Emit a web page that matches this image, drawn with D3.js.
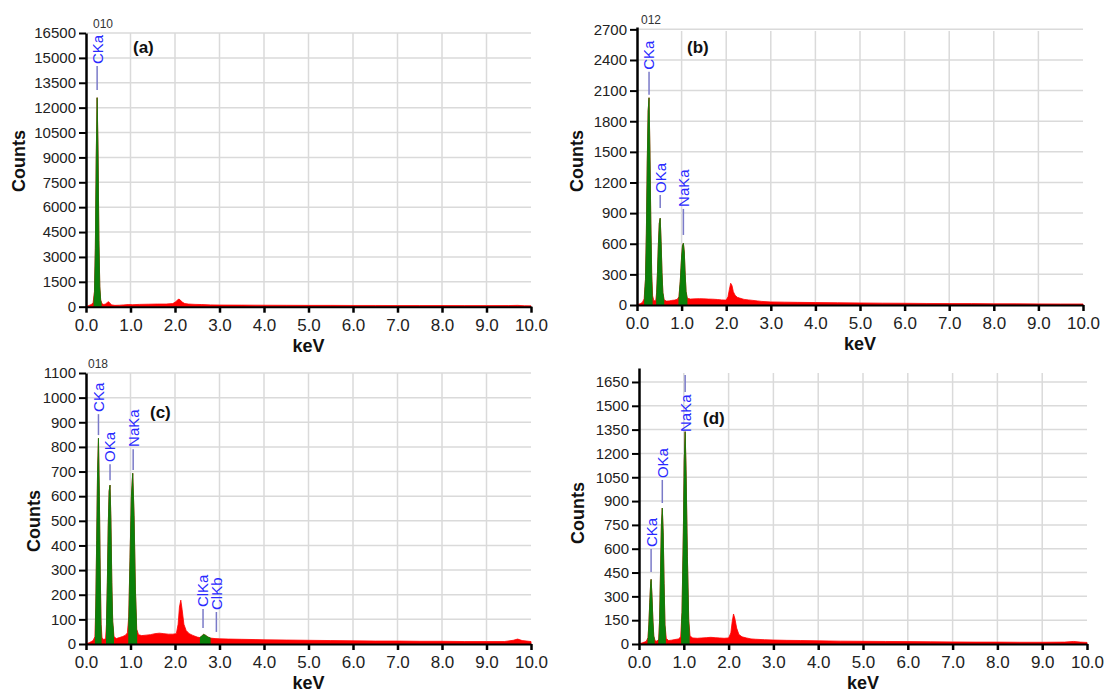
<!DOCTYPE html>
<html>
<head>
<meta charset="utf-8">
<script src="https://cdn.jsdelivr.net/npm/d3@7"></script>
<style>
  body { margin: 0; background: #fff; }
  svg { display: block; font-family: "Liberation Sans", Arial, sans-serif; }
</style>
</head>
<body>
<svg id="svg" width="1108" height="693"></svg>
<script>
// energy axis (keV), shared by all four spectra
const kevTicks = [0, 1, 2, 3, 4, 5, 6, 7, 8, 9, 10];
const kevTickLabels = ["0.0", "1.0", "2.0", "3.0", "4.0", "5.0", "6.0", "7.0", "8.0", "9.0", "10.0"];

const yTicksA = [0, 1500, 3000, 4500, 6000, 7500, 9000, 10500, 12000, 13500, 15000, 16500];
const yTicksB = [0, 300, 600, 900, 1200, 1500, 1800, 2100, 2400, 2700];
const yTicksC = [0, 100, 200, 300, 400, 500, 600, 700, 800, 900, 1000, 1100];
const yTicksD = [0, 150, 300, 450, 600, 750, 900, 1050, 1200, 1350, 1500, 1650];

// spectra: [keV, counts]
const spectrumA = [
  [0, 0], [0.04, 40], [0.08, 90], [0.12, 130], [0.16, 250], [0.19, 900], [0.21, 3500], [0.23, 9000],
  [0.25, 12600], [0.27, 9500], [0.29, 4000], [0.31, 1200], [0.33, 400], [0.36, 180], [0.40, 130],
  [0.44, 170], [0.48, 260], [0.51, 300], [0.54, 200], [0.58, 110], [0.65, 80], [0.75, 90], [0.85, 110],
  [0.95, 130], [1.05, 120], [1.2, 140], [1.4, 150], [1.6, 160], [1.8, 160], [1.95, 190], [2.02, 300],
  [2.06, 420], [2.09, 460], [2.12, 400], [2.16, 280], [2.22, 190], [2.3, 160], [2.45, 140], [2.6, 130],
  [2.8, 110], [3.0, 100], [3.5, 95], [4.0, 90], [4.5, 85], [5.0, 80], [5.5, 80], [6.0, 75], [6.5, 75],
  [7.0, 70], [7.5, 70], [8.0, 70], [8.5, 65], [9.0, 65], [9.5, 70], [9.7, 80], [9.85, 60], [10, 50]
];
const spectrumB = [
  [0, 0], [0.04, 8], [0.08, 15], [0.12, 25], [0.16, 60], [0.19, 250], [0.21, 700], [0.23, 1400],
  [0.25, 1900], [0.27, 2030], [0.29, 1500], [0.31, 800], [0.33, 300], [0.35, 90], [0.38, 40], [0.42, 45],
  [0.44, 120], [0.46, 330], [0.48, 600], [0.50, 800], [0.52, 850], [0.54, 620], [0.56, 320], [0.58, 120],
  [0.61, 50], [0.66, 38], [0.72, 40], [0.78, 45], [0.84, 48], [0.90, 55], [0.94, 80], [0.97, 230],
  [1.00, 470], [1.02, 580], [1.04, 605], [1.06, 520], [1.08, 300], [1.10, 130], [1.13, 65], [1.2, 58],
  [1.3, 60], [1.4, 62], [1.5, 60], [1.6, 58], [1.7, 57], [1.8, 54], [1.9, 50], [2.0, 48], [2.04, 80],
  [2.07, 150], [2.10, 213], [2.13, 190], [2.16, 130], [2.2, 95], [2.25, 75], [2.3, 68], [2.4, 55],
  [2.5, 50], [2.6, 45], [2.7, 40], [2.8, 35], [3.0, 30], [3.3, 28], [3.6, 26], [4.0, 24], [4.5, 22],
  [5.0, 20], [5.5, 18], [6.0, 17], [6.5, 15], [7.0, 14], [7.5, 14], [8.0, 12], [8.5, 12], [9.0, 11],
  [9.5, 10], [10, 10]
];
const spectrumC = [
  [0, 0], [0.04, 3], [0.08, 6], [0.12, 10], [0.16, 14], [0.20, 30], [0.22, 150], [0.24, 420], [0.26, 700],
  [0.28, 835], [0.30, 600], [0.32, 280], [0.34, 80], [0.36, 25], [0.40, 18], [0.44, 22], [0.46, 80],
  [0.48, 250], [0.50, 480], [0.52, 620], [0.54, 645], [0.56, 500], [0.58, 250], [0.60, 90], [0.63, 30],
  [0.68, 22], [0.75, 26], [0.82, 30], [0.88, 35], [0.93, 45], [0.96, 110], [0.99, 350], [1.02, 600],
  [1.05, 693], [1.08, 520], [1.11, 220], [1.14, 60], [1.18, 38], [1.25, 34], [1.35, 36], [1.45, 38],
  [1.55, 42], [1.65, 44], [1.75, 42], [1.85, 40], [1.95, 40], [2.03, 42], [2.07, 80], [2.10, 150],
  [2.13, 178], [2.16, 140], [2.20, 80], [2.25, 55], [2.32, 42], [2.4, 35], [2.5, 28], [2.56, 26],
  [2.60, 32], [2.64, 39], [2.68, 36], [2.74, 28], [2.8, 24], [2.9, 22], [3.0, 21], [3.2, 20], [3.5, 19],
  [3.8, 18], [4.0, 17], [4.5, 16], [5.0, 15], [5.5, 14], [6.0, 13], [6.5, 12], [7.0, 12], [7.5, 11],
  [8.0, 11], [8.5, 10], [9.0, 10], [9.4, 10], [9.6, 15], [9.7, 20], [9.8, 14], [10, 10]
];
const spectrumD = [
  [0, 0], [0.04, 4], [0.08, 8], [0.12, 12], [0.16, 16], [0.20, 40], [0.22, 120], [0.24, 260], [0.26, 380],
  [0.27, 407], [0.29, 300], [0.31, 150], [0.33, 50], [0.36, 20], [0.40, 18], [0.44, 30], [0.46, 150],
  [0.48, 450], [0.50, 750], [0.52, 856], [0.54, 700], [0.56, 380], [0.58, 120], [0.61, 35], [0.66, 22],
  [0.72, 24], [0.80, 28], [0.88, 32], [0.93, 45], [0.96, 200], [0.99, 700], [1.01, 1150], [1.03, 1337],
  [1.05, 1100], [1.08, 550], [1.11, 150], [1.14, 50], [1.2, 38], [1.3, 36], [1.4, 38], [1.5, 40],
  [1.6, 42], [1.7, 40], [1.8, 38], [1.9, 36], [2.0, 38], [2.05, 70], [2.08, 140], [2.11, 189], [2.14, 160],
  [2.18, 100], [2.23, 60], [2.3, 45], [2.4, 38], [2.5, 32], [2.6, 30], [2.8, 27], [3.0, 25], [3.3, 23],
  [3.6, 22], [4.0, 20], [4.5, 18], [5.0, 17], [5.5, 16], [6.0, 15], [6.5, 14], [7.0, 13], [7.5, 12],
  [8.0, 12], [8.5, 11], [9.0, 11], [9.5, 12], [9.7, 16], [9.85, 12], [10, 10]
];

// identified peak windows (keV) drawn in green
const peaksA = [[0.17, 0.35]];
const peaksB = [[0.16, 0.35], [0.43, 0.61], [0.93, 1.13]];
const peaksC = [[0.20, 0.35], [0.45, 0.63], [0.95, 1.15], [2.56, 2.80]];
const peaksD = [[0.19, 0.35], [0.43, 0.60], [0.94, 1.13]];

// element markers: name, keV, where text starts, marker line (counts)
const labelsA = [{ name: "CKa", kev: 0.25, text: 14630, line: [13060, 14510] }];
const labelsB = [
  { name: "CKa", kev: 0.27, text: 2304, line: [2059, 2284] },
  { name: "OKa", kev: 0.52, text: 1098, line: [951, 1078] },
  { name: "NaKa", kev: 1.04, text: 961, line: [686, 941] }
];
const labelsC = [
  { name: "CKa", kev: 0.28, text: 942, line: [848, 933] },
  { name: "OKa", kev: 0.54, text: 739, line: [665, 730] },
  { name: "NaKa", kev: 1.06, text: 800, line: [706, 791] },
  { name: "ClKa", kev: 2.63, text: 150, line: [65, 142] },
  { name: "ClKb", kev: 2.93, text: 138, line: [49, 130] }
];
const labelsD = [
  { name: "CKa", kev: 0.27, text: 611, line: [453, 598] },
  { name: "OKa", kev: 0.52, text: 1045, line: [888, 1033] },
  { name: "NaKa", kev: 1.03, text: 1335, line: [1587, 1694] }
];

const panels = [
  { id: "a", spectrum: spectrumA, peaks: peaksA, labels: labelsA, yTicks: yTicksA, yMax: 16500,
    x0: 86, x1: 531, yZero: 306.7, yTop: 33, gridTop: 33, tag: "010", tagX: 93, tagY: 28,
    letter: "(a)", letterX: 133, letterY: 53, countsX: 19, countsY: 161 },
  { id: "b", spectrum: spectrumB, peaks: peaksB, labels: labelsB, yTicks: yTicksB, yMax: 2723,
    x0: 637, x1: 1083, yZero: 305, yTop: 27, gridTop: 31, tag: "012", tagX: 641, tagY: 24,
    letter: "(b)", letterX: 687, letterY: 53, countsX: 577, countsY: 161 },
  { id: "c", spectrum: spectrumC, peaks: peaksC, labels: labelsC, yTicks: yTicksC, yMax: 1100,
    x0: 86, x1: 531, yZero: 644, yTop: 373, gridTop: 373, tag: "018", tagX: 88, tagY: 368,
    letter: "(c)", letterX: 150, letterY: 418, countsX: 34, countsY: 521 },
  { id: "d", spectrum: spectrumD, peaks: peaksD, labels: labelsD, yTicks: yTicksD, yMax: 1738,
    x0: 639, x1: 1087, yZero: 644, yTop: 368, gridTop: 373, tag: "", tagX: 0, tagY: 0,
    letter: "(d)", letterX: 703, letterY: 424, countsX: 578, countsY: 513 }
];

const svg = d3.select("#svg");
const defs = svg.append("defs");
const font = '"Liberation Sans", Arial, sans-serif';

panels.forEach(p => {
  const x = d3.scaleLinear().domain([0, 10]).range([p.x0, p.x1]);
  const y = d3.scaleLinear().domain([0, p.yMax]).range([p.yZero, p.yTop]);
  const g = svg.append("g").attr("class", "panel-" + p.id);

  // grid
  g.append("g").selectAll("line").data(p.yTicks.slice(1)).join("line")
    .attr("x1", p.x0).attr("x2", p.x1)
    .attr("y1", d => y(d)).attr("y2", d => y(d))
    .attr("stroke", "#dadada").attr("stroke-width", 1.5);
  g.append("g").selectAll("line").data(kevTicks.slice(1, -1)).join("line")
    .attr("x1", d => x(d)).attr("x2", d => x(d))
    .attr("y1", p.yZero).attr("y2", p.gridTop)
    .attr("stroke", "#dadada").attr("stroke-width", 1.5);

  // spectrum
  const area = d3.area().x(d => x(d[0])).y0(y(0)).y1(d => y(d[1]));
  g.append("path").datum(p.spectrum).attr("d", area)
    .attr("fill", "#ff0000").attr("stroke", "#ff0000").attr("stroke-width", 0.8);
  p.peaks.forEach((w, j) => {
    const id = `clip-${p.id}-${j}`;
    defs.append("clipPath").attr("id", id).append("rect")
      .attr("x", x(w[0])).attr("width", x(w[1]) - x(w[0]))
      .attr("y", 0).attr("height", 693);
    g.append("path").datum(p.spectrum).attr("d", area)
      .attr("clip-path", `url(#${id})`)
      .attr("fill", "#0a800a").attr("stroke", "#0a800a").attr("stroke-width", 0.8);
  });

  // axes
  g.append("g").attr("transform", `translate(${p.x0},0)`)
    .call(d3.axisLeft(y).tickValues(p.yTicks).tickFormat(d3.format("d"))
      .tickSize(7).tickSizeOuter(0).tickPadding(3))
    .attr("font-family", font).attr("font-size", 15)
    .call(a => a.select(".domain").attr("stroke", "#000").attr("stroke-width", 2.5))
    .call(a => a.selectAll(".tick line").attr("stroke", "#000").attr("stroke-width", 2))
    .call(a => a.selectAll(".tick text").attr("fill", "#222"));

  g.append("g").attr("transform", `translate(0,${p.yZero})`)
    .call(d3.axisBottom(x).tickValues(kevTicks).tickFormat((d, i) => kevTickLabels[i])
      .tickSize(6).tickSizeOuter(0).tickPadding(6))
    .attr("font-family", font).attr("font-size", 17)
    .call(a => a.select(".domain").attr("stroke", "#000").attr("stroke-width", 2))
    .call(a => a.selectAll(".tick line").attr("stroke", "#000").attr("stroke-width", 2.5))
    .call(a => a.selectAll(".tick text").attr("fill", "#222"));

  // axis titles
  g.append("text")
    .attr("transform", `translate(${p.countsX},${p.countsY}) rotate(-90)`)
    .attr("text-anchor", "middle").attr("dy", "0.35em")
    .attr("font-weight", "bold").attr("font-size", 18).attr("fill", "#111")
    .text("Counts");
  g.append("text")
    .attr("x", (p.x0 + p.x1) / 2).attr("y", p.yZero + 45)
    .attr("text-anchor", "middle")
    .attr("font-weight", "bold").attr("font-size", 18).attr("fill", "#111")
    .text("keV");

  if (p.tag) {
    g.append("text").attr("x", p.tagX).attr("y", p.tagY)
      .attr("font-size", 12).attr("fill", "#333").text(p.tag);
  }
  g.append("text").attr("x", p.letterX).attr("y", p.letterY)
    .attr("font-weight", "bold").attr("font-size", 17).attr("fill", "#111")
    .text(p.letter);

  // element markers
  const lab = g.append("g").selectAll("g").data(p.labels).join("g");
  lab.append("line")
    .attr("x1", d => x(d.kev)).attr("x2", d => x(d.kev))
    .attr("y1", d => y(d.line[0])).attr("y2", d => y(d.line[1]))
    .attr("stroke", "#7a7ac8").attr("stroke-width", 1.5);
  lab.append("text")
    .attr("transform", d => `translate(${x(d.kev)},${y(d.text)}) rotate(-90)`)
    .attr("dy", "0.36em").attr("font-size", 15).attr("fill", "#2a2aff")
    .text(d => d.name);
});
</script>
</body>
</html>
